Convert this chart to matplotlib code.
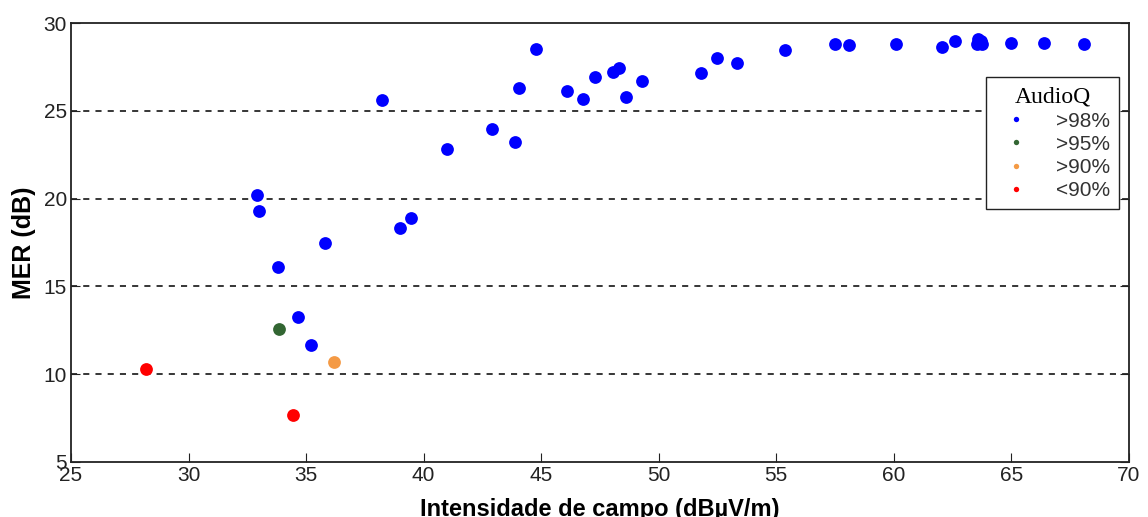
import numpy as np
import matplotlib.pyplot as plt

# Medidas por classe de qualidade de áudio (AudioQ)
campo_98 = [32.9, 33.0, 33.8, 34.65, 35.2, 35.8, 38.25, 39.0, 39.45, 41.0,
            42.9, 43.9, 44.05, 44.8, 46.1, 46.8, 47.3, 48.05, 48.3, 48.6,
            49.3, 51.8, 52.5, 53.35, 55.35, 57.5, 58.1, 60.1, 62.05, 62.6,
            63.55, 63.6, 63.7, 63.75, 65.0, 66.4, 68.1]
mer_98 = [20.2, 19.3, 16.1, 13.25, 11.65, 17.45, 25.6, 18.3, 18.9, 22.85,
          23.95, 23.25, 26.3, 28.5, 26.15, 25.7, 26.9, 27.2, 27.45, 25.8,
          26.7, 27.15, 28.0, 27.75, 28.45, 28.8, 28.75, 28.8, 28.65, 28.97,
          28.8, 29.1, 28.95, 28.8, 28.87, 28.87, 28.8]

campo_95 = [33.85]
mer_95 = [12.6]

campo_90 = [36.2]
mer_90 = [10.7]

campo_lt90 = [28.2, 34.45]
mer_lt90 = [10.3, 7.7]

series = [
    (campo_98, mer_98, '#0000ff', '>98%'),
    (campo_95, mer_95, '#336633', '>95%'),
    (campo_90, mer_90, '#f49a45', '>90%'),
    (campo_lt90, mer_lt90, '#ff0000', '<90%'),
]

plt.rcParams['font.family'] = 'Liberation Sans'

fig = plt.figure(figsize=(11.48, 5.17), dpi=100)
ax = fig.add_axes([0.0618, 0.1064, 0.9216, 0.8491])

for x, y, cor, nome in series:
    ax.plot(x, y, 'o', color=cor, markersize=9.2, markeredgewidth=0,
            linestyle='none', label=nome)

ax.set_xlim(25, 70)
ax.set_ylim(5, 30)
ax.set_xticks(np.arange(25, 71, 5))
ax.set_yticks(np.arange(5, 31, 5))

for v in [10, 15, 20, 25]:
    ax.axhline(v, color='black', linestyle=(0, (4, 4)), linewidth=1.1, zorder=0)

ax.tick_params(direction='in', length=6.5, width=0.8, labelsize=15,
               top=False, right=True, pad=3, colors='#222222')
for s in ax.spines.values():
    s.set_linewidth(1.3)
    s.set_color('#222222')

ax.set_xlabel('Intensidade de campo (dBµV/m)', fontsize=17, fontweight='bold',
              labelpad=9)
ax.set_ylabel('MER (dB)', fontsize=18, fontweight='bold', labelpad=5)

leg = ax.legend(title='AudioQ', loc='upper left', bbox_to_anchor=(0.865, 0.877),
                fontsize=15, markerscale=0.42, frameon=True, fancybox=False,
                framealpha=1, edgecolor='#222222', handlelength=2.0,
                handletextpad=0.9, borderpad=0.45, labelspacing=0.2,
                borderaxespad=0)
leg.get_title().set_family('Liberation Serif')
leg.get_title().set_fontsize(17)
leg.get_frame().set_linewidth(1.0)
for t in leg.get_texts():
    t.set_color('#333333')

fig.savefig('out.png', dpi=100)
